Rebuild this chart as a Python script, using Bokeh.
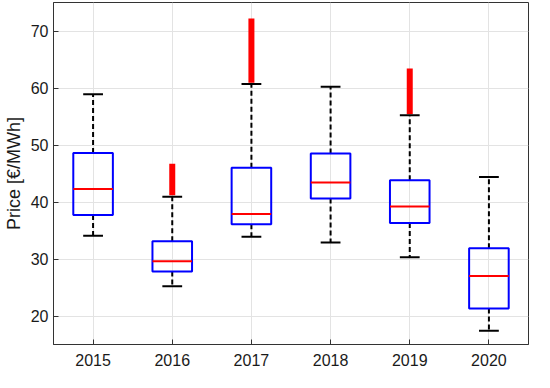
from bokeh.plotting import figure
from bokeh.models import FixedTicker, Range1d, ColumnDataSource
from bokeh.embed import file_html
from bokeh.resources import INLINE

years = ["2015", "2016", "2017", "2018", "2019", "2020"]
whisker_low = [34.1, 25.2, 33.9, 32.9, 30.3, 17.4]
q1 = [37.7, 27.8, 36.1, 40.6, 36.3, 21.3]
median = [42.3, 29.6, 37.9, 43.4, 39.2, 27.0]
q3 = [48.6, 33.1, 46.0, 48.5, 43.8, 31.9]
whisker_high = [58.9, 40.9, 60.7, 60.2, 55.2, 44.4]
outlier_low = [float("nan"), 41.2, 60.9, float("nan"), 55.4, float("nan")]
outlier_high = [float("nan"), 46.7, 72.2, float("nan"), 63.4, float("nan")]
y_ticks = [20, 30, 40, 50, 60, 70]

xs = list(range(1, len(years) + 1))
src = ColumnDataSource(dict(
    x=xs, wl=whisker_low, q1=q1, med=median, q3=q3, wh=whisker_high,
    ol=outlier_low, oh=outlier_high,
    bl=[x - 0.25 for x in xs], br=[x + 0.25 for x in xs],
    cl=[x - 0.125 for x in xs], cr=[x + 0.125 for x in xs],
))

FONT = "Liberation Sans"
FS = "16px"

p = figure(width=534, height=372, output_backend="svg", toolbar_location=None,
           x_range=Range1d(0.5, 6.5), y_range=Range1d(15, 75),
           min_border_left=40, min_border_right=6, min_border_top=2, min_border_bottom=28)
p.outline_line_color = "#333333"
p.outline_line_width = 1

for ax in (p.xaxis[0], p.yaxis[0]):
    ax.major_tick_in = 5
    ax.major_tick_out = 0
    ax.minor_tick_in = 0
    ax.minor_tick_out = 0
    ax.axis_line_color = "#333333"
    ax.major_tick_line_color = "#333333"
    ax.major_label_text_font = FONT
    ax.major_label_text_font_size = FS
    ax.major_label_text_color = "#1a1a1a"

p.xaxis.ticker = FixedTicker(ticks=xs)
p.xaxis.major_label_overrides = {x: y for x, y in zip(xs, years)}
p.xaxis.major_label_standoff = 9
p.yaxis.ticker = FixedTicker(ticks=y_ticks)
p.yaxis.major_label_standoff = 5
p.yaxis.axis_label = "Price [€/MWh]"
p.yaxis.axis_label_text_font = FONT
p.yaxis.axis_label_text_font_size = "18px"
p.yaxis.axis_label_text_font_style = "normal"
p.yaxis.axis_label_text_color = "#1a1a1a"
p.yaxis.axis_label_standoff = 4

p.xgrid.ticker = FixedTicker(ticks=xs)
p.ygrid.ticker = FixedTicker(ticks=y_ticks)
p.grid.grid_line_color = "#e3e3e3"
p.grid.grid_line_width = 1

# whiskers
p.segment(x0="x", y0="q3", x1="x", y1="wh", source=src, line_color="black",
          line_width=2, line_dash="5 3")
p.segment(x0="x", y0="q1", x1="x", y1="wl", source=src, line_color="black",
          line_width=2, line_dash="5 3")
# outliers
p.segment(x0="x", y0="ol", x1="x", y1="oh", source=src, line_color="#ff0000",
          line_width=6)
# caps
p.segment(x0="cl", y0="wh", x1="cr", y1="wh", source=src, line_color="black", line_width=2)
p.segment(x0="cl", y0="wl", x1="cr", y1="wl", source=src, line_color="black", line_width=2)
# boxes
p.quad(left="bl", right="br", bottom="q1", top="q3", source=src,
       fill_color=None, line_color="#0000ff", line_width=2)
# medians
p.segment(x0="bl", y0="med", x1="br", y1="med", source=src, line_color="#ff0000", line_width=2)

open("out.html", "w").write(file_html(p, INLINE))
